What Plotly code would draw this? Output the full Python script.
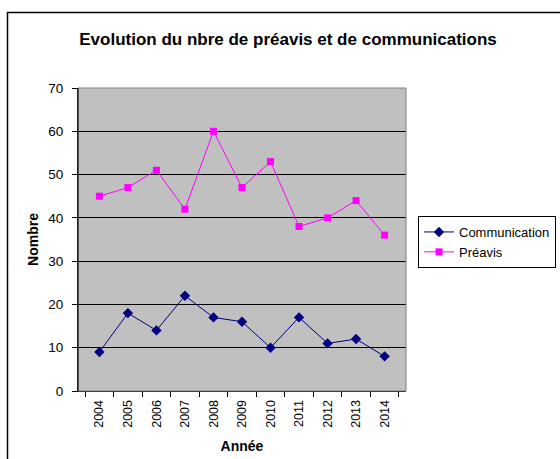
import plotly.graph_objects as go

annees = ["2004", "2005", "2006", "2007", "2008", "2009", "2010", "2011", "2012", "2013", "2014"]
communication = [9, 18, 14, 22, 17, 16, 10, 17, 11, 12, 8]
preavis = [45, 47, 51, 42, 60, 47, 53, 38, 40, 44, 36]

W, H = 560, 459
L, R, T, B = 78, 406, 88, 391

fig = go.Figure()
fig.add_trace(go.Scatter(
    x=annees, y=communication, name="Communication", mode="lines+markers",
    line=dict(color="#000080", width=1),
    marker=dict(symbol="diamond", size=8, color="#000080"),
))
fig.add_trace(go.Scatter(
    x=annees, y=preavis, name="Préavis", mode="lines+markers",
    line=dict(color="#FF00FF", width=1),
    marker=dict(symbol="square", size=7, color="#FF00FF"),
))

pw, ph = R - L, B - T
def px(x):
    return (x - L) / pw
def py(y):
    return (B - y) / ph

fig.update_layout(
    width=W, height=H,
    margin=dict(l=L, r=W - R, t=T, b=H - B, pad=0, autoexpand=False),
    paper_bgcolor="white",
    plot_bgcolor="#C0C0C0",
    font=dict(family="Liberation Sans, Arial, sans-serif", size=12, color="black"),
    title=dict(text="<b>Evolution du nbre de préavis et de communications</b>",
               x=288 / W, xanchor="center",
               y=1 - 39 / H, yanchor="middle",
               font=dict(size=17)),
    showlegend=True,
    legend=dict(xref="container", yref="container",
                x=418 / W, xanchor="left", y=1 - 216 / H, yanchor="top",
                bordercolor="black", borderwidth=1, bgcolor="white",
                font=dict(size=13), itemwidth=30, tracegroupgap=0),
    xaxis=dict(
        type="category", tickson="boundaries", ticks="outside", ticklen=5,
        tickcolor="black", tickangle=-90, showgrid=False, showline=True,
        linecolor="black", linewidth=1, mirror=False, automargin=False,
        ticklabelstandoff=3,
        title=dict(text="<b>Année</b>", font=dict(size=14), standoff=14),
        tickfont=dict(size=12.5),
    ),
    yaxis=dict(
        range=[0, 70], dtick=10, ticks="outside", ticklen=5, tickcolor="black",
        showgrid=True, gridcolor="black", gridwidth=1, showline=True,
        linecolor="black", linewidth=1, zeroline=False, automargin=False,
        ticklabelstandoff=6,
        title=dict(text="<b>Nombre</b>", font=dict(size=14), standoff=6),
        tickfont=dict(size=13.5),
    ),
    shapes=[
        dict(type="rect", xref="paper", yref="paper", x0=0, x1=1, y0=0, y1=1,
             line=dict(color="#808080", width=1), layer="above"),
        dict(type="line", xref="paper", yref="paper", x0=0, x1=0, y0=0, y1=1,
             line=dict(color="black", width=1), layer="above"),
        dict(type="rect", xref="paper", yref="paper",
             x0=px(7.5), x1=px(600), y0=py(12.5), y1=py(520),
             line=dict(color="black", width=1.5), layer="below"),
    ],
)

fig.write_html("out.html", config={"displayModeBar": False},
               post_script="document.body.style.margin='0';document.body.style.overflow='hidden';")
